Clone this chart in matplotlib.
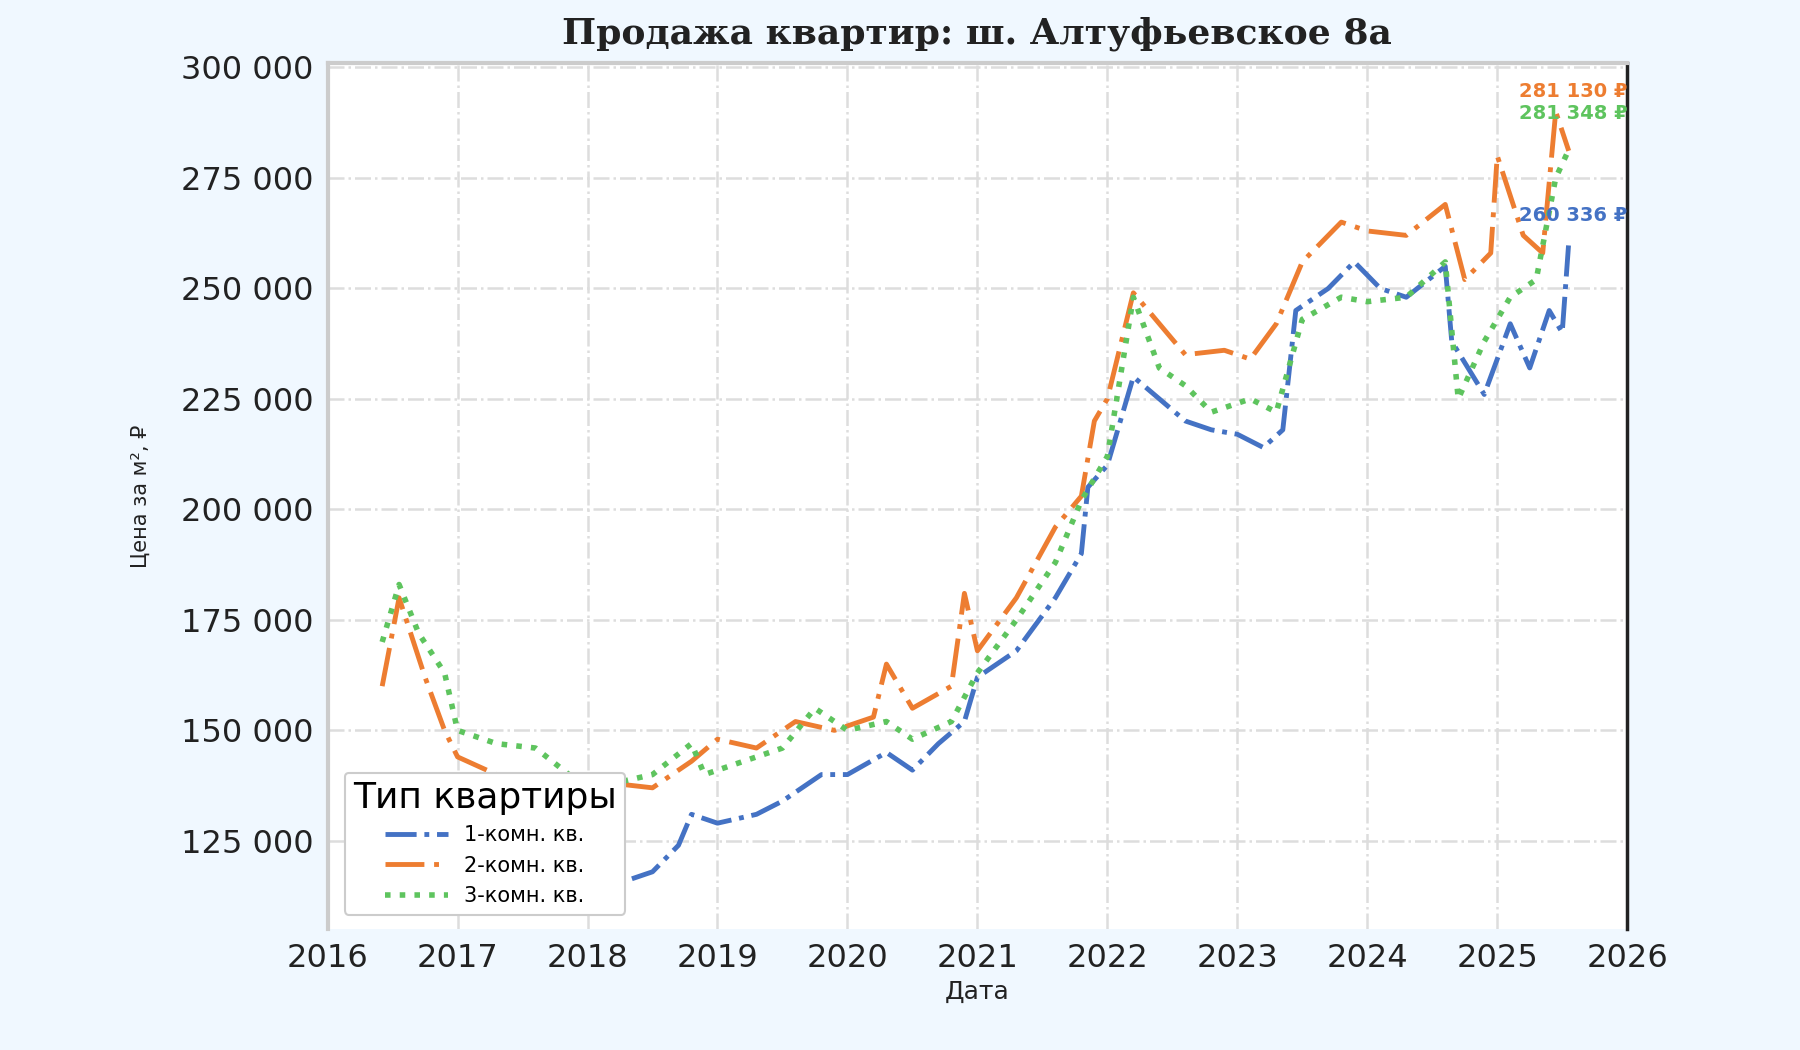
import matplotlib
matplotlib.use("Agg")
import matplotlib.pyplot as plt
from matplotlib.ticker import FuncFormatter

# годовые доли (дата как десятичный год) и цены за м², ₽
X_1K = [2016.45, 2016.6, 2016.8, 2017.0, 2017.3, 2017.5, 2017.8, 2018.0, 2018.3, 2018.5,
        2018.7, 2018.8, 2019.0, 2019.3, 2019.5, 2019.8, 2020.0, 2020.3, 2020.5, 2020.7,
        2020.9, 2021.0, 2021.3, 2021.6, 2021.8, 2021.85, 2022.0, 2022.2, 2022.4, 2022.6,
        2022.8, 2023.0, 2023.2, 2023.35, 2023.45, 2023.7, 2023.9, 2024.1, 2024.3, 2024.6,
        2024.65, 2024.9, 2025.1, 2025.25, 2025.4, 2025.5, 2025.55]
Y_1K = [130000, 129000, 127000, 125000, 122000, 120000, 118000, 115000, 116000, 118000,
        124000, 131000, 129000, 131000, 134000, 140000, 140000, 145000, 141000, 147000,
        152000, 162000, 168000, 180000, 190000, 205000, 210000, 230000, 225000, 220000,
        218000, 217000, 214000, 218000, 245000, 250000, 256000, 250000, 248000, 255000,
        238000, 226000, 242000, 232000, 245000, 240000, 260336]

X_2K = [2016.42, 2016.55, 2016.75, 2016.9, 2017.0, 2017.3, 2017.6, 2017.9, 2018.2, 2018.5,
        2018.8, 2019.0, 2019.3, 2019.6, 2019.9, 2020.2, 2020.3, 2020.5, 2020.8, 2020.9,
        2021.0, 2021.3, 2021.6, 2021.8, 2021.9, 2022.0, 2022.2, 2022.4, 2022.6, 2022.9,
        2023.1, 2023.3, 2023.5, 2023.8, 2024.0, 2024.3, 2024.6, 2024.75, 2024.95, 2025.0,
        2025.2, 2025.35, 2025.45, 2025.55]
Y_2K = [160000, 180000, 162000, 150000, 144000, 140000, 133000, 138000, 138000, 137000,
        143000, 148000, 146000, 152000, 150000, 153000, 165000, 155000, 160000, 181000,
        168000, 180000, 196000, 203000, 220000, 225000, 249000, 242000, 235000, 236000,
        234000, 242000, 256000, 265000, 263000, 262000, 269000, 252000, 258000, 280000,
        262000, 258000, 290000, 281130]

X_3K = [2016.42, 2016.55, 2016.7, 2016.9, 2017.0, 2017.3, 2017.6, 2017.9, 2018.2, 2018.5,
        2018.8, 2018.9, 2019.2, 2019.5, 2019.75, 2020.0, 2020.3, 2020.5, 2020.8, 2021.0,
        2021.3, 2021.6, 2021.8, 2022.0, 2022.2, 2022.4, 2022.6, 2022.8, 2023.1, 2023.3,
        2023.5, 2023.8, 2024.0, 2024.3, 2024.6, 2024.7, 2024.9, 2025.1, 2025.3, 2025.45,
        2025.55]
Y_3K = [170000, 183000, 172000, 163000, 150000, 147000, 146000, 139000, 138000, 140000,
        147000, 140000, 143000, 146000, 155000, 150000, 152000, 148000, 152000, 163000,
        175000, 188000, 202000, 212000, 248000, 232000, 228000, 222000, 225000, 222000,
        243000, 248000, 247000, 248000, 256000, 225000, 238000, 248000, 252000, 275000,
        281348]

LABELS = ["1-комн. кв.", "2-комн. кв.", "3-комн. кв."]
COLORS = ["#4472c4", "#ed7d31", "#5ec45e"]

fig = plt.figure(figsize=(18, 10.5), dpi=100, facecolor="#f0f8ff")
ax = fig.add_axes([0.182, 0.115, 0.722, 0.825])
ax.set_facecolor("white")

ax.plot(X_1K, Y_1K, color=COLORS[0], lw=3.5, ls="-.", label=LABELS[0])
ax.plot(X_2K, Y_2K, color=COLORS[1], lw=3.5, ls=(0, (8, 2, 1, 2)), label=LABELS[1])
ax.plot(X_3K, Y_3K, color=COLORS[2], lw=4, ls=":", label=LABELS[2])

ax.set_xlim(2016, 2026)
ax.set_ylim(105000, 301000)
ax.set_xticks(range(2016, 2027))
ax.set_yticks(range(125000, 300001, 25000))
ax.yaxis.set_major_formatter(FuncFormatter(lambda v, p: f"{int(v):,}".replace(",", " ")))
ax.tick_params(labelsize=23, colors="#222222", length=0, pad=10)
ax.grid(True, color="#dddddd", ls="-.", lw=1.8)

for s in ["left", "top"]:
    ax.spines[s].set_color("#cccccc")
    ax.spines[s].set_linewidth(3)
ax.spines["bottom"].set_visible(False)
ax.spines["right"].set_color("#222222")
ax.spines["right"].set_linewidth(2.5)

for y, txt, c in [(294500, "281 130 ₽", COLORS[1]), (289500, "281 348 ₽", COLORS[2]),
                  (266500, "260 336 ₽", COLORS[0])]:
    ax.text(2026, y, txt, color=c, fontsize=14, fontweight="bold", ha="right", va="center")

ax.set_title("Продажа квартир: ш. Алтуфьевское 8а", fontsize=26, fontweight="bold",
             family="DejaVu Serif", color="#222222", pad=14)
ax.set_xlabel("Дата", fontsize=18, color="#222222")
ax.set_ylabel("Цена за м², ₽", fontsize=15, color="#222222", labelpad=22)

leg = ax.legend(title="Тип квартиры", loc="lower left", fontsize=15, title_fontsize=26,
                frameon=True, framealpha=1, edgecolor="#cccccc", handlelength=3,
                bbox_to_anchor=(0.005, 0.005))
leg.get_frame().set_linewidth(1.5)

fig.savefig("out.png", dpi=100, facecolor=fig.get_facecolor())
